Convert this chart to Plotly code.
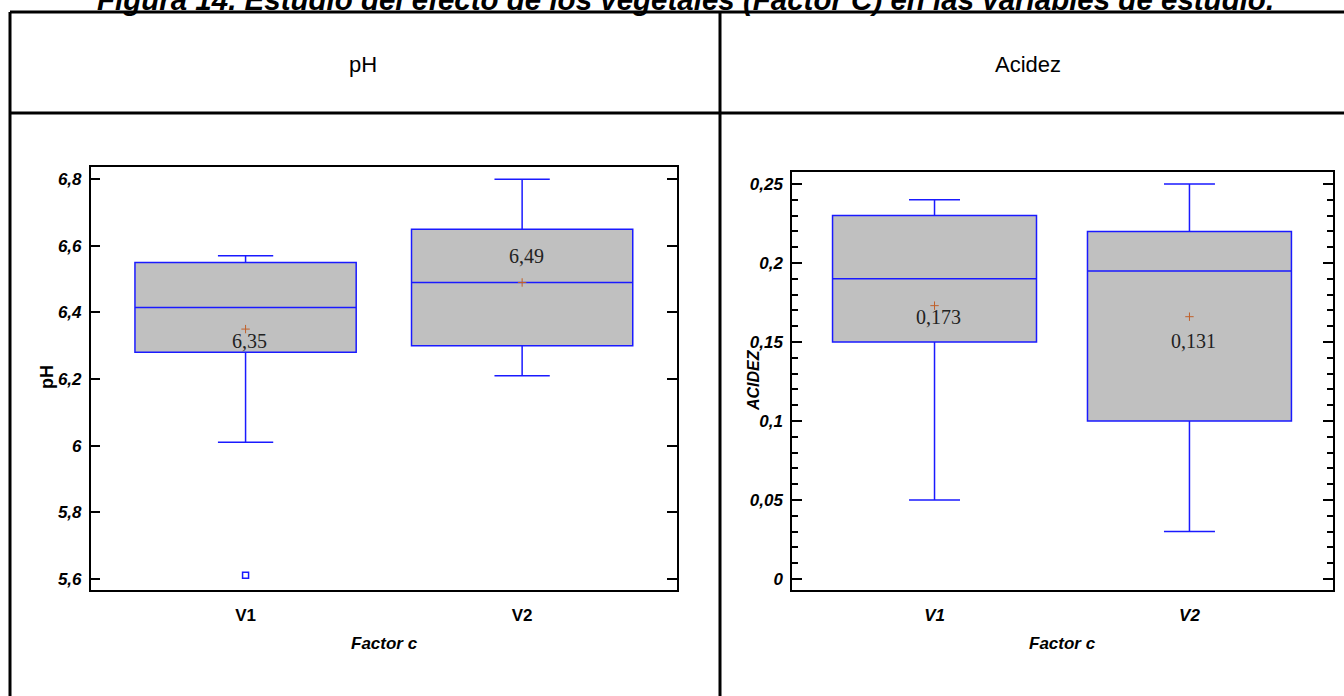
import plotly.graph_objects as go

# ---------------- data ----------------
categories = ["V1", "V2"]

ph_q1 = [6.28, 6.30]
ph_median = [6.415, 6.49]
ph_q3 = [6.55, 6.65]
ph_lower = [6.01, 6.21]
ph_upper = [6.57, 6.80]
ph_mean = [6.35, 6.49]
ph_mean_labels = ["6,35", "6,49"]
ph_outlier_cat = [0]
ph_outlier_val = [5.61]

ac_q1 = [0.15, 0.10]
ac_median = [0.19, 0.195]
ac_q3 = [0.23, 0.22]
ac_lower = [0.05, 0.03]
ac_upper = [0.24, 0.25]
ac_mean = [0.173, 0.166]
ac_mean_labels = ["0,173", "0,131"]

header_labels = ["pH", "Acidez"]
title_text = "Figura 14. Estudio del efecto de los vegetales (Factor C) en las variables de estudio."

# ---------------- styles ----------------
W, H = 1344, 696
def px(x):
    return x / W
def py(y):
    return 1 - y / H

BLUE = "#1a1aff"
FILL = "#c0c0c0"
MEANC = "#c0602a"
SANS = "Liberation Sans, Arial"
NARROW = "Liberation Sans Narrow, Liberation Sans, Arial"
SERIF = "Liberation Serif, Times New Roman, serif"

xpos = list(range(len(categories)))

fig = go.Figure()

# pH boxes
fig.add_trace(go.Box(
    x=xpos, q1=ph_q1, median=ph_median, q3=ph_q3,
    lowerfence=ph_lower, upperfence=ph_upper,
    width=0.8, whiskerwidth=0.25, fillcolor=FILL,
    line=dict(color=BLUE, width=1.5), boxpoints=False,
    xaxis="x", yaxis="y", showlegend=False, hoverinfo="skip"))
fig.add_trace(go.Scatter(
    x=ph_outlier_cat, y=ph_outlier_val, mode="markers",
    marker=dict(symbol="square-open", size=6, color=BLUE, line=dict(width=1.5)),
    xaxis="x", yaxis="y", showlegend=False))
fig.add_trace(go.Scatter(
    x=xpos, y=ph_mean, mode="markers",
    marker=dict(symbol="cross-thin", size=6, line=dict(color=MEANC, width=1)),
    xaxis="x", yaxis="y", showlegend=False))

# Acidez boxes
fig.add_trace(go.Box(
    x=xpos, q1=ac_q1, median=ac_median, q3=ac_q3,
    lowerfence=ac_lower, upperfence=ac_upper,
    width=0.8, whiskerwidth=0.25, fillcolor=FILL,
    line=dict(color=BLUE, width=1.5), boxpoints=False,
    xaxis="x2", yaxis="y2", showlegend=False, hoverinfo="skip"))
fig.add_trace(go.Scatter(
    x=xpos, y=ac_mean, mode="markers",
    marker=dict(symbol="cross-thin", size=6, line=dict(color=MEANC, width=1)),
    xaxis="x2", yaxis="y2", showlegend=False))

axis_common = dict(showline=True, linecolor="black", linewidth=1.5, mirror=True,
                   showgrid=False, zeroline=False)

fig.update_layout(
    width=W, height=H,
    margin=dict(l=0, r=0, t=0, b=0),
    paper_bgcolor="white", plot_bgcolor="white",
    separators=", ",
    xaxis=dict(domain=[px(90.7), px(677)], range=[-0.56, 1.56],
               tickvals=xpos, ticktext=categories, ticks="",
               tickfont=dict(family=NARROW, size=17, color="black", weight="bold"),
               ticklabelstandoff=9, anchor="y", **axis_common),
    yaxis=dict(domain=[py(590), py(167)], range=[5.566, 6.837],
               tick0=5.6, dtick=0.2, ticks="inside", ticklen=10, tickwidth=1.5,
               tickcolor="black",
               tickfont=dict(family=NARROW, size=17, color="black", weight="bold", style="italic"),
               ticklabelstandoff=4, anchor="x",
               **{**axis_common, "mirror": "allticks"}),
    xaxis2=dict(domain=[px(792), px(1333)], range=[-0.559, 1.563],
                tickvals=xpos, ticktext=categories, ticks="",
                tickfont=dict(family=NARROW, size=17, color="black", weight="bold", style="italic"),
                ticklabelstandoff=9, anchor="y2", **axis_common),
    yaxis2=dict(domain=[py(590), py(172)], range=[-0.007, 0.2576],
                tick0=0, dtick=0.05, ticks="inside", ticklen=10, tickwidth=1.5,
                tickcolor="black",
                minor=dict(dtick=0.01, ticks="inside", ticklen=6, tickwidth=1.5, tickcolor="black"),
                tickfont=dict(family=NARROW, size=17, color="black", weight="bold", style="italic"),
                ticklabelstandoff=4, anchor="x2",
                **{**axis_common, "mirror": "allticks"}),
)

# table lines
line_style = dict(color="black", width=3)
shapes = [
    dict(type="line", xref="paper", yref="paper", x0=px(10), x1=1.01, y0=py(12), y1=py(12), line=line_style),
    dict(type="line", xref="paper", yref="paper", x0=px(10), x1=1.01, y0=py(113), y1=py(113), line=line_style),
    dict(type="line", xref="paper", yref="paper", x0=px(10), x1=px(10), y0=py(12), y1=-0.01, line=line_style),
    dict(type="line", xref="paper", yref="paper", x0=px(720), x1=px(720), y0=py(12), y1=-0.01, line=line_style),
]
fig.update_layout(shapes=shapes)

ann = []
# figure title (partly above the page, as in the source)
ann.append(dict(text="<b><i>" + title_text + "</i></b>", xref="paper", yref="paper",
                x=px(685), y=py(-1), xanchor="center", yanchor="middle", showarrow=False,
                font=dict(family=SANS, size=29.5, color="black")))
# header cells
for lbl, cx in zip(header_labels, [363, 1028]):
    ann.append(dict(text=lbl, xref="paper", yref="paper", x=px(cx), y=py(64),
                    xanchor="center", yanchor="middle", showarrow=False,
                    font=dict(family=SANS, size=22, color="black")))
# axis titles
ann.append(dict(text="pH", xref="paper", yref="paper", x=px(47), y=py(377), textangle=-90,
                xanchor="center", yanchor="middle", showarrow=False,
                font=dict(family=SANS, size=18, color="black", weight="bold")))
ann.append(dict(text="ACIDEZ", xref="paper", yref="paper", x=px(753), y=py(380), textangle=-90,
                xanchor="center", yanchor="middle", showarrow=False,
                font=dict(family=SANS, size=16, color="black", weight="bold", style="italic")))
for cx in [384, 1062]:
    ann.append(dict(text="Factor c", xref="paper", yref="paper", x=px(cx), y=py(643),
                    xanchor="center", yanchor="middle", showarrow=False,
                    font=dict(family=NARROW, size=17, color="black", weight="bold", style="italic")))
# mean labels
ph_shifts = [-12, 26]
ac_shifts = [-11, -24]
for i in xpos:
    ann.append(dict(text=ph_mean_labels[i], xref="x", yref="y", x=xpos[i], y=ph_mean[i],
                    xshift=4, yshift=ph_shifts[i], showarrow=False,
                    font=dict(family=SERIF, size=20, color="#222222")))
    ann.append(dict(text=ac_mean_labels[i], xref="x2", yref="y2", x=xpos[i], y=ac_mean[i],
                    xshift=4, yshift=ac_shifts[i], showarrow=False,
                    font=dict(family=SERIF, size=20, color="#222222")))
fig.update_layout(annotations=ann)

fig.write_html("out.html", config={"displayModeBar": False},
               post_script="document.body.style.margin='0';")
